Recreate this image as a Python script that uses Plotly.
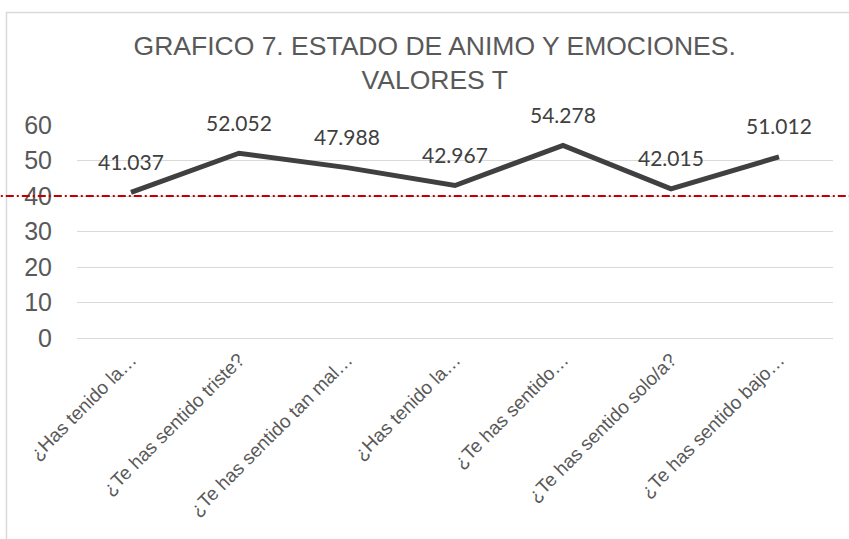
import plotly.graph_objects as go

categories = ["¿Has tenido la…", "¿Te has sentido triste?", "¿Te has sentido tan mal…",
              "¿Has tenido la…", "¿Te has sentido…", "¿Te has sentido solo/a?",
              "¿Te has sentido bajo…"]
values = [41.037, 52.052, 47.988, 42.967, 54.278, 42.015, 51.012]
threshold = 40
y_ticks = [0, 10, 20, 30, 40, 50, 60]

xs = list(range(len(categories)))

fig = go.Figure()
fig.add_trace(go.Scatter(
    x=xs, y=values, mode="lines",
    line=dict(color="#404040", width=5),
    hoverinfo="skip", showlegend=False,
))

for xi, v in zip(xs, values):
    fig.add_annotation(
        x=xi, y=v, text=f"{v:.3f}", showarrow=False, yshift=31,
        font=dict(family="Lato, Liberation Sans, sans-serif", size=21, color="#404040"),
    )

# threshold line spanning the full chart width
fig.add_shape(type="line", xref="paper", yref="y", x0=-0.2, x1=1.2, y0=threshold, y1=threshold,
              line=dict(color="#c00000", width=2, dash="8px,3px,2px,3px"), layer="above")

# chart container border
fig.add_shape(type="rect", xref="paper", yref="paper", x0=-0.0933, x1=1.3, y0=-2, y1=1.528,
              line=dict(color="#d9d9d9", width=1.5), fillcolor="rgba(0,0,0,0)", layer="below")

fig.update_layout(
    width=849, height=539,
    margin=dict(l=77, r=16, t=125, b=201, autoexpand=False),
    paper_bgcolor="white", plot_bgcolor="white",
    title=dict(
        text="GRAFICO 7. ESTADO DE ANIMO Y EMOCIONES.<br>VALORES T",
        x=0.512, xref="container", xanchor="center",
        y=0.898, yref="container", yanchor="top",
        font=dict(family="Liberation Sans, Arial, sans-serif", size=26.5, color="#595959"),
    ),
    xaxis=dict(
        range=[-0.5, len(categories) - 0.5], automargin=False,
        tickmode="array", tickvals=xs, ticktext=categories,
        tickangle=-45, showgrid=False, zeroline=False, showline=False, ticks="",
        ticklabelstandoff=6,
        tickfont=dict(family="Liberation Sans, Arial, sans-serif", size=19, color="#595959"),
    ),
    yaxis=dict(
        range=[0, 60], tickmode="array", tickvals=y_ticks, automargin=False,
        showgrid=True, gridcolor="#d9d9d9", gridwidth=1,
        zeroline=True, zerolinecolor="#d9d9d9", zerolinewidth=1,
        showline=False, ticks="", ticklabelstandoff=24,
        tickfont=dict(family="Liberation Sans, Arial, sans-serif", size=25, color="#595959"),
    ),
)

fig.write_html("out.html", config={"displayModeBar": False},
               post_script="document.body.style.margin='0';")
